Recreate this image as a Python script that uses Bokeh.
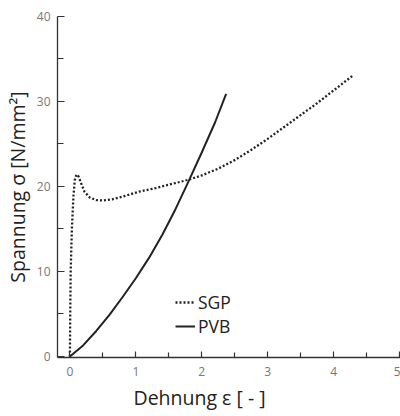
from bokeh.plotting import figure
from bokeh.models import Range1d, Legend, LegendItem, FixedTicker, Title
from bokeh.embed import file_html
from bokeh.resources import INLINE

# SGP (dotted)
sgp_x = [0, 0.005, 0.012, 0.03, 0.055, 0.075, 0.1, 0.13, 0.17, 0.22, 0.3, 0.4, 0.5,
         0.65, 0.8, 1.05, 1.3, 1.55, 1.8, 2.0, 2.25, 2.5, 2.75, 3.0, 3.25, 3.5, 3.75, 4.0, 4.15, 4.3]
sgp_y = [0, 5, 10, 15, 19, 20.8, 21.4, 21.2, 20.4, 19.4, 18.7, 18.4, 18.35,
         18.5, 18.8, 19.4, 19.8, 20.3, 20.8, 21.3, 22.1, 23.1, 24.3, 25.6, 27.0, 28.4, 29.8, 31.3, 32.2, 33.1]

# PVB (solid)
pvb_x = [0, 0.2, 0.4, 0.6, 0.8, 1.0, 1.2, 1.4, 1.6, 1.8, 2.0, 2.2, 2.37]
pvb_y = [0, 1.3, 3.0, 4.9, 7.0, 9.2, 11.6, 14.3, 17.3, 20.6, 24.0, 27.5, 30.9]

x_major = [0, 1, 2, 3, 4, 5]
x_minor = [0.5, 1.5, 2.5, 3.5, 4.5]
y_major = [0, 10, 20, 30, 40]
y_minor = [5, 15, 25, 35]

x_title = "Dehnung ε [ - ]"
y_title = "Spannung σ [N/mm²]"

FONT = "Open Sans"
INK = "#222222"
TSIZE = "19.5px"

p = figure(width=400, height=416, output_backend="svg", toolbar_location=None,
           x_range=Range1d(-0.188, 5.015), y_range=Range1d(-0.12, 40.0),
           min_border_left=54, min_border_right=0, min_border_top=16, min_border_bottom=59)
p.outline_line_color = None
p.grid.visible = False
p.background_fill_color = "white"
p.border_fill_color = "white"

l1 = p.line(sgp_x, sgp_y, line_color=INK, line_width=2.3, line_dash="2 2")
l2 = p.line(pvb_x, pvb_y, line_color=INK, line_width=2.0)

for ax in (p.xaxis[0], p.yaxis[0]):
    ax.axis_line_color = "#333333"
    ax.axis_line_width = 1.3
    ax.major_tick_line_color = "#333333"
    ax.minor_tick_line_color = "#333333"
    ax.major_tick_line_width = 1.2
    ax.minor_tick_line_width = 1.2
    ax.major_tick_out = 0
    ax.minor_tick_out = 0
    ax.major_label_text_font = FONT
    ax.major_label_text_font_size = "12px"
    ax.major_label_text_color = "#777777"

p.xaxis.ticker = FixedTicker(ticks=x_major, minor_ticks=x_minor)
p.yaxis.ticker = FixedTicker(ticks=y_major, minor_ticks=y_minor)
p.xaxis.major_tick_in = 6
p.xaxis.minor_tick_in = 5
p.yaxis.major_tick_in = 7
p.yaxis.minor_tick_in = 6
p.xaxis.major_label_standoff = 9
p.yaxis.major_label_standoff = 7

p.yaxis.axis_label = y_title
p.yaxis.axis_label_standoff = 3
p.yaxis.axis_label_text_font = FONT
p.yaxis.axis_label_text_font_size = TSIZE
p.yaxis.axis_label_text_font_style = "normal"
p.yaxis.axis_label_text_color = INK

xt = Title(text=x_title, align="left", offset=76, standoff=7,
           text_font=FONT, text_font_size=TSIZE, text_font_style="normal",
           text_color=INK)
p.add_layout(xt, "below")


def make_legend(label, renderer, y):
    lg = Legend(items=[LegendItem(label=label, renderers=[renderer])],
                location=(118, y), orientation="vertical")
    lg.background_fill_alpha = 0
    lg.border_line_color = None
    lg.padding = 0
    lg.margin = 0
    lg.spacing = 0
    lg.glyph_width = 20
    lg.glyph_height = 20
    lg.label_height = 20
    lg.label_standoff = 3
    lg.label_text_font = FONT
    lg.label_text_font_size = "17.5px"
    lg.label_text_color = INK
    return lg


p.add_layout(make_legend("SGP", l1, 43), "center")
p.add_layout(make_legend("PVB", l2, 19), "center")

open("out.html", "w").write(file_html(p, INLINE))
